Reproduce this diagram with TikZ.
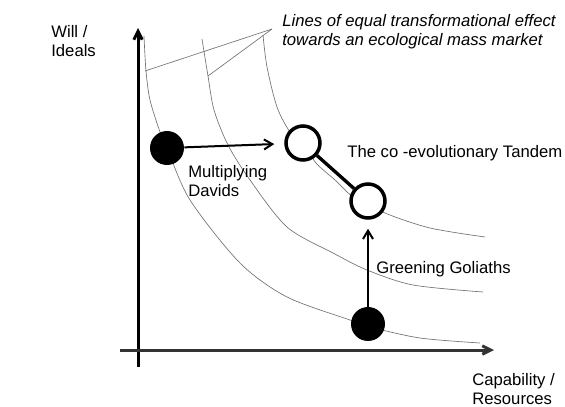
\documentclass[tikz,border=0pt]{standalone}
\usepackage{fontspec}
\setmainfont{Liberation Sans}
\usepackage{tikz}
\usetikzlibrary{arrows.meta}

\begin{document}
\begin{tikzpicture}[x=0.6pt, y=-0.6pt,
			every node/.style={inner sep=0pt, align=left, anchor=west,
			font=\fontsize{10}{11.4}\selectfont},
			effect/.style={draw=black!55, line width=0.4pt},
			axis/.style={-{Straight Barb[length=5pt, width=5pt]}, line width=1.8pt},
			move/.style={-{Straight Barb[length=5pt, width=6pt]}, line width=1.2pt},
			firm/.style={circle, fill=black, anchor=center, minimum size=20.4pt},
			tandem/.style={circle, draw, fill=white, anchor=center, line width=2.1pt, minimum size=20.4pt}
		]
			\useasboundingbox (0,0) rectangle (565,407);

			% lines of equal transformational effect
			\draw[effect] plot[smooth] coordinates {(144,36) (146,71) (150,100) (160,132) (167,148)
				(190,200) (240,263) (287,297) (350,320) (370,327) (420,338) (480,343)};
			\draw[effect] plot[smooth] coordinates {(202,39) (208,76) (214,110) (228,145) (250,180)
				(287,227) (333,253) (367,270) (413,285) (483,292)};
			\draw[effect] plot[smooth] coordinates {(263,35) (267,67) (277,107) (290,132) (303,143)
				(316,163) (335,180) (352,196) (368,201) (385,213) (430,228) (485,237)};

			\node[font=\fontsize{10}{11.4}\selectfont\itshape] (effectlbl) at (282,31.5)
				{Lines of equal transformational effect\\towards an ecological mass market};
			\coordinate (ptr) at (272,29);
			\coordinate (eff1) at (145,71);
			\coordinate (eff2) at (208,76);
			\draw[effect] (ptr) -- (eff1);
			\draw[effect] (ptr) -- (eff2);

			% axes
			\coordinate (ybot) at (138,367);
			\coordinate (ytop) at (138,28);
			\coordinate (xleft) at (120,350);
			\coordinate (xright) at (494,350);
			\draw[axis] (ybot) -- (ytop);
			\draw[axis, draw=black!80] (xleft) -- (xright);

			\node (will) at (51,41) {Will /\\Ideals};
			\node (capability) at (472,389.5) {Capability /\\Resources};

			% firms
			\node[tandem] (tandem1) at (303,143) {};
			\node[tandem] (tandem2) at (368,201) {};
			\draw[line width=2pt] (tandem1) -- (tandem2);
			\node[firm] (david) at (167,148) {};
			\node[firm] (goliath) at (368,324) {};

			\draw[move, shorten >=6pt] (david) -- (tandem1);
			\draw[move, shorten >=5.4pt] (goliath) -- (tandem2);

			\node (davids) at (188,181.5) {Multiplying\\Davids};
			\node (tandemlbl) at (347,153) {The co -evolutionary Tandem};
			\node (goliaths) at (376,269) {Greening Goliaths};
		\end{tikzpicture}
\end{document}
